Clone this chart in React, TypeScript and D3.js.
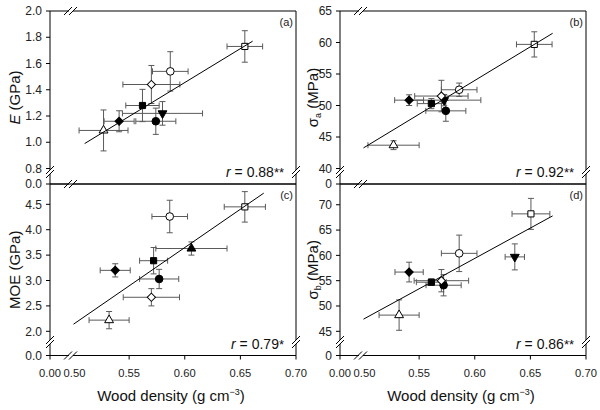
import React from "react";
import * as d3 from "d3";

// marker order (same genotype order in every panel)
const markersAB = ["triangleOpen", "diamondFilled", "squareFilled", "circleFilled", "triangleDownFilled", "diamondOpen", "circleOpen", "squareOpen"];
const markersC = ["triangleOpen", "diamondFilled", "squareFilled", "circleFilled", "triangleFilled", "diamondOpen", "circleOpen", "squareOpen"];
const markersD = markersAB;

// (a) E
const densA = [0.527, 0.541, 0.562, 0.574, 0.58, 0.57, 0.587, 0.654];
const densErrA = [0.022, 0.0135, 0.015, 0.018, 0.036, 0.0256, 0.016, 0.016];
const valA = [1.09, 1.16, 1.28, 1.16, 1.22, 1.44, 1.54, 1.73];
const valErrA = [0.156, 0.08, 0.123, 0.1, 0.09, 0.145, 0.15, 0.12];
const fitA = [[0.51, 0.99], [0.661, 1.77]];

// (b) sigma a
const densB = [0.527, 0.541, 0.561, 0.574, 0.5725, 0.57, 0.586, 0.6535];
const densErrB = [0.023, 0.013, 0.0127, 0.018, 0.033, 0.024, 0.016, 0.016];
const valB = [43.7, 50.85, 50.3, 49.15, 50.85, 51.5, 52.5, 59.7];
const valErrB = [0.7, 0.85, 0.8, 1.65, 0.9, 2.5, 1.06, 2.0];
const fitB = [[0.5, 43.27], [0.67, 61.46]];

// (c) MOE
const densC = [0.532, 0.5375, 0.572, 0.577, 0.606, 0.57, 0.5865, 0.654];
const densErrC = [0.018, 0.0135, 0.0126, 0.0176, 0.032, 0.0253, 0.016, 0.0185];
const valC = [2.22, 3.2, 3.39, 3.03, 3.63, 2.67, 4.26, 4.45];
const valErrC = [0.17, 0.13, 0.26, 0.19, 0.13, 0.17, 0.32, 0.3];
const fitC = [[0.5, 2.14], [0.671, 4.72]];

// (d) sigma b
const densD = [0.532, 0.541, 0.561, 0.572, 0.636, 0.57, 0.586, 0.6505];
const densErrD = [0.018, 0.0127, 0.0135, 0.0158, 0.0087, 0.0245, 0.016, 0.017];
const valD = [48.2, 56.7, 54.7, 54.1, 59.7, 55.0, 60.4, 68.2];
const valErrD = [3.0, 1.95, 0.65, 2.1, 2.57, 2.2, 3.6, 3.06];
const fitD = [[0.5, 47.4], [0.67, 67.8]];

const xTicks = [0.5, 0.55, 0.6, 0.65, 0.7];
const yTicksA = [0.8, 1.0, 1.2, 1.4, 1.6, 1.8, 2.0];
const yTicksB = [40, 45, 50, 55, 60, 65];
const yTicksC = [2.0, 2.5, 3.0, 3.5, 4.0, 4.5];
const yTicksD = [45, 50, 55, 60, 65, 70];

const FONT = "'Liberation Sans', Arial, sans-serif";

const cols = [
  { left: 50, right: 296, x50: 73.5, titleX: 19.5 },
  { left: 340, right: 586, x50: 363.5, titleX: 318 },
];
const rows = [
  { top: 11, axisY: 184, lowY: 168.5, breakY: 172, showX: false },
  { top: 184, axisY: 355.5, lowY: 331.3, breakY: 342, showX: true },
];

const panels = [
  { tag: "(a)", r: "0.88", stars: "**", col: 0, row: 0, dom: [0.8, 2.0], ticks: yTicksA, fmt: ".1f", zero: "0.0", markers: markersAB, x: densA, xe: densErrA, y: valA, ye: valErrA, fit: fitA, title: "E" },
  { tag: "(b)", r: "0.92", stars: "**", col: 1, row: 0, dom: [40, 65], ticks: yTicksB, fmt: "d", zero: "0", markers: markersAB, x: densB, xe: densErrB, y: valB, ye: valErrB, fit: fitB, title: "sa" },
  { tag: "(c)", r: "0.79", stars: "*", col: 0, row: 1, dom: [2.0, 4.9], ticks: yTicksC, fmt: ".1f", zero: "0.0", markers: markersC, x: densC, xe: densErrC, y: valC, ye: valErrC, fit: fitC, title: "MOE" },
  { tag: "(d)", r: "0.86", stars: "**", col: 1, row: 1, dom: [45, 74.1], ticks: yTicksD, fmt: "d", zero: "0", markers: markersD, x: densD, xe: densErrD, y: valD, ye: valErrD, fit: fitD, title: "sb" },
];

function symbolPath(m: string) {
  if (m.startsWith("circle")) return { d: d3.symbol(d3.symbolCircle, 46)(), rot: 0 };
  if (m.startsWith("square")) return { d: d3.symbol(d3.symbolSquare, 38)(), rot: 0 };
  if (m.startsWith("diamond")) return { d: d3.symbol(d3.symbolSquare, 34)(), rot: 45 };
  if (m.startsWith("triangleDown")) return { d: d3.symbol(d3.symbolTriangle, 34)(), rot: 180 };
  return { d: d3.symbol(d3.symbolTriangle, 34)(), rot: 0 };
}

// axis break "//" on a vertical line
const VBreak = ({ x, y }: { x: number; y: number }) => (
  <g>
    <rect x={x - 2} y={y - 2} width={4} height={4} fill="white" />
    <line x1={x - 4} y1={y + 2} x2={x + 4} y2={y - 6} stroke="#000" />
    <line x1={x - 4} y1={y + 6} x2={x + 4} y2={y - 2} stroke="#000" />
  </g>
);

// axis break "//" on a horizontal line
const HBreak = ({ x, y }: { x: number; y: number }) => (
  <g>
    <rect x={x - 2} y={y - 2} width={4} height={4} fill="white" />
    <line x1={x - 7} y1={y + 4} x2={x + 1} y2={y - 4} stroke="#000" />
    <line x1={x - 2} y1={y + 4} x2={x + 6} y2={y - 4} stroke="#000" />
  </g>
);

const Panel = ({ p }: { p: any }) => {
  const c = cols[p.col];
  const rw = rows[p.row];
  const x = d3.scaleLinear().domain([0.5, 0.7]).range([c.x50, c.right]);
  const y = d3.scaleLinear().domain(p.dom).range([rw.lowY, rw.top]);
  const fmt = d3.format(p.fmt);
  const xfmt = d3.format(".2f");
  const line = d3.line<number[]>().x((d) => x(d[0])).y((d) => y(d[1]));
  const cap = 3;
  const errCol = "#5a5a5a";
  const xb = c.x50 - 2.5;
  const mid = (rw.top + rw.axisY) / 2;

  return (
    <g fontFamily={FONT}>
      {/* frame */}
      <g stroke="#000" strokeWidth={1} fill="none">
        <line x1={c.left} y1={rw.top} x2={c.left} y2={rw.axisY} />
        <line x1={c.right} y1={rw.top} x2={c.right} y2={rw.axisY} />
        <line x1={c.left} y1={rw.top} x2={c.right} y2={rw.top} />
        <line x1={c.left} y1={rw.axisY} x2={c.right} y2={rw.axisY} />
      </g>
      {/* y ticks */}
      {p.ticks.map((t: number) => (
        <g key={t}>
          <line x1={c.left - 4} x2={c.left} y1={y(t)} y2={y(t)} stroke="#000" />
          <text x={c.left - 8} y={y(t)} dy="0.35em" textAnchor="end" fontSize={12} fill="#222">{fmt(t)}</text>
        </g>
      ))}
      <line x1={c.left - 4} x2={c.left} y1={rw.axisY} y2={rw.axisY} stroke="#000" />
      <text x={c.left - 8} y={rw.axisY} dy="0.35em" textAnchor="end" fontSize={12} fill="#222">{p.zero}</text>
      {/* x ticks */}
      {rw.showX && (
        <g>
          {xTicks.slice(1).map((t) => (
            <line key={t} x1={x(t)} x2={x(t)} y1={rw.axisY} y2={rw.axisY + 4} stroke="#000" />
          ))}
          <line x1={c.left} x2={c.left} y1={rw.axisY} y2={rw.axisY + 4} stroke="#000" />
          {xTicks.map((t) => (
            <text key={t} x={x(t) + (t === 0.5 ? 1 : 0)} y={rw.axisY + 21} textAnchor="middle" fontSize={11.2} fill="#222">{xfmt(t)}</text>
          ))}
          <text x={c.left} y={rw.axisY + 21} textAnchor="middle" fontSize={11.2} fill="#222">{xfmt(0)}</text>
          <text x={(c.left + c.right) / 2 - 2} y={401} textAnchor="middle" fontSize={15} fill="#111">
            Wood density (g cm<tspan fontSize={9} dy={-6}>−3</tspan><tspan dy={6}>)</tspan>
          </text>
        </g>
      )}
      {/* breaks */}
      <VBreak x={c.left} y={rw.breakY} />
      <VBreak x={c.right} y={rw.breakY} />
      <HBreak x={xb} y={rw.axisY} />
      {p.row === 0 && <HBreak x={xb} y={rw.top} />}
      {/* error bars */}
      <g stroke={errCol} strokeWidth={1}>
        {p.x.map((xv: number, i: number) => {
          const cx = x(xv), cy = y(p.y[i]);
          const x0 = x(xv - p.xe[i]), x1 = x(xv + p.xe[i]);
          const y0 = y(p.y[i] - p.ye[i]), y1 = y(p.y[i] + p.ye[i]);
          return (
            <g key={i}>
              <line x1={x0} x2={x1} y1={cy} y2={cy} />
              <line x1={x0} x2={x0} y1={cy - cap} y2={cy + cap} />
              <line x1={x1} x2={x1} y1={cy - cap} y2={cy + cap} />
              <line x1={cx} x2={cx} y1={y0} y2={y1} />
              <line x1={cx - cap} x2={cx + cap} y1={y0} y2={y0} />
              <line x1={cx - cap} x2={cx + cap} y1={y1} y2={y1} />
            </g>
          );
        })}
      </g>
      {/* markers */}
      {p.x.map((xv: number, i: number) => {
        const m = p.markers[i];
        const s = symbolPath(m);
        const filled = m.endsWith("Filled");
        return (
          <path key={i} d={s.d || ""} transform={`translate(${x(xv)},${y(p.y[i])}) rotate(${s.rot})`}
            fill={filled ? "#000" : "#fff"} stroke="#000" strokeWidth={1} />
        );
      })}
      {/* regression line */}
      <path d={line(p.fit) || ""} fill="none" stroke="#000" strokeWidth={1} />
      {/* labels */}
      <text x={c.right - 3} y={rw.top + 15} textAnchor="end" fontSize={11} fill="#222">{p.tag}</text>
      <text x={c.right - 12} y={rw.axisY - 7} textAnchor="end" fontSize={14} fill="#111">
        <tspan fontStyle="italic">r</tspan> = {p.r}<tspan fontSize={13}>{p.stars}</tspan>
      </text>
      <g transform={`translate(${c.titleX},${mid}) rotate(-90)`}>
        <text textAnchor="middle" fontSize={15} fill="#111">
          {p.title === "E" && (<><tspan fontStyle="italic">E</tspan> (GPa)</>)}
          {p.title === "MOE" && "MOE (GPa)"}
          {p.title === "sa" && (<>σ<tspan fontSize={9} dy={3}>a</tspan><tspan dy={-3}> (MPa)</tspan></>)}
          {p.title === "sb" && (<>σ<tspan fontSize={9} dy={3}>b</tspan><tspan dy={-3}> (MPa)</tspan></>)}
        </text>
      </g>
    </g>
  );
};

export default function App() {
  return (
    <svg width={600} height={410} style={{ position: "absolute", left: 0, top: 0, background: "#fff" }}>
      {panels.map((p) => (
        <Panel key={p.tag} p={p} />
      ))}
    </svg>
  );
}
